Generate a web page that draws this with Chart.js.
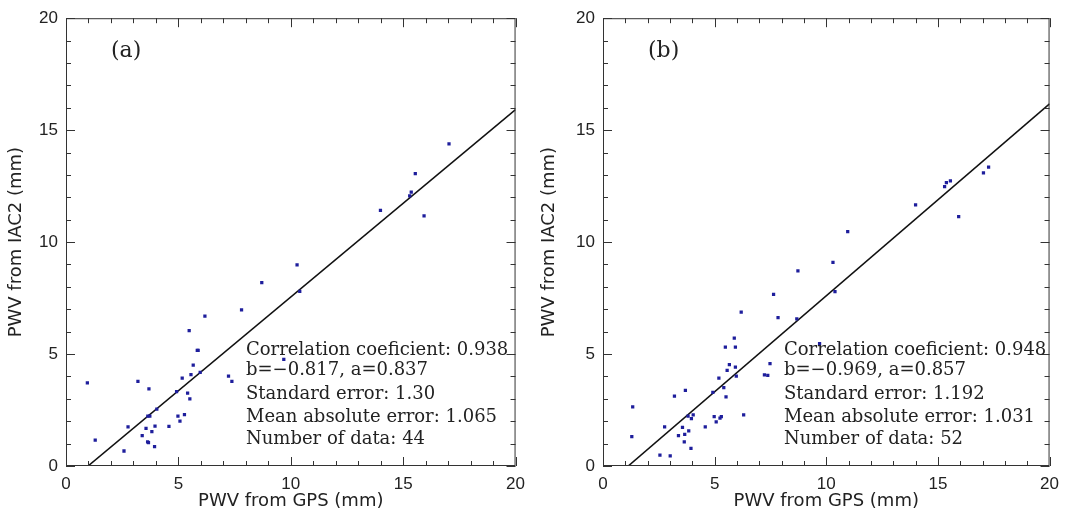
<!DOCTYPE html>
<html>
<head>
<meta charset="utf-8">
<script src="https://cdn.jsdelivr.net/npm/chart.js@4/dist/chart.umd.min.js"></script>
<style>
  body { margin: 0; background: #fff; }
  .panel { position: absolute; top: 0; }
</style>
</head>
<body>
<div class="panel" style="left:0"><canvas id="chartA" width="533" height="515"></canvas></div>
<div class="panel" style="left:533px"><canvas id="chartB" width="534" height="515"></canvas></div>
<script>
// Panel (a) - PWV points
const gpsA = [0.95, 1.30, 2.58, 2.76, 3.20, 3.39, 3.56, 3.63, 3.67, 3.69, 3.64, 3.73, 3.82, 3.94, 3.96, 4.04,
  4.58, 4.92, 4.98, 5.07, 5.17, 5.27, 5.41, 5.48, 5.51, 5.56, 5.66, 5.84, 5.88, 5.97, 6.18, 7.23, 7.38,
  7.81, 8.71, 9.69, 10.28, 10.40, 13.99, 15.29, 15.36, 15.54, 15.93, 17.04];
const iacA = [3.71, 1.16, 0.67, 1.75, 3.78, 1.36, 1.68, 1.08, 1.04, 3.44, 2.23, 2.23, 1.53, 0.86, 1.78, 2.54,
  1.77, 3.32, 2.23, 2.00, 3.93, 2.30, 3.26, 6.05, 3.00, 4.08, 4.50, 5.16, 5.16, 4.18, 6.69, 4.01, 3.78,
  6.97, 8.19, 4.76, 8.98, 7.80, 11.42, 12.06, 12.23, 13.06, 11.17, 14.39];
const fitAx = [0.98, 20];
const fitAy = [0, 15.92];
const statsA = ['Correlation coeficient: 0.938', 'b=\u22120.817, a=0.837', 'Standard error: 1.30',
  'Mean absolute error: 1.065', 'Number of data: 44'];

// Panel (b)
const gpsB = [1.29, 1.33, 2.55, 2.76, 3.01, 3.20, 3.38, 3.56, 3.64, 3.66, 3.69, 3.81, 3.84, 3.94, 3.96, 4.04,
  4.58, 4.92, 4.98, 5.07, 5.19, 5.24, 5.30, 5.41, 5.48, 5.51, 5.56, 5.66, 5.88, 5.93, 5.93, 5.97, 6.19,
  6.30, 7.23, 7.38, 7.48, 7.64, 7.84, 8.68, 8.73, 9.70, 10.30, 10.39, 10.96, 14.00, 15.30, 15.38, 15.56,
  15.93, 17.04, 17.27];
const iacB = [1.31, 2.64, 0.49, 1.75, 0.45, 3.12, 1.36, 1.72, 1.08, 1.41, 3.38, 2.23, 1.57, 0.79, 2.12, 2.28,
  1.75, 3.29, 2.20, 1.97, 3.93, 2.14, 2.20, 3.50, 5.31, 3.09, 4.27, 4.53, 5.71, 5.31, 4.42, 4.01, 6.87,
  2.28, 4.07, 4.05, 4.57, 7.67, 6.63, 6.57, 8.72, 5.46, 9.09, 7.79, 10.47, 11.66, 12.48, 12.66, 12.73,
  11.14, 13.09, 13.35];
const fitBx = [1.13, 20];
const fitBy = [0, 16.17];
const statsB = ['Correlation coeficient: 0.948', 'b=\u22120.969, a=0.857', 'Standard error: 1.192',
  'Mean absolute error: 1.031', 'Number of data: 52'];

const ticks = [0, 5, 10, 15, 20];

// box + inward tick marks + annotation text
const framePlugin = {
  id: 'frame',
  afterDraw(chart) {
    const ctx = chart.ctx;
    const a = chart.chartArea;
    const xs = chart.scales.x, ys = chart.scales.y;
    const o = chart.options.plugins.frame;
    ctx.save();
    ctx.strokeStyle = '#333';
    ctx.lineWidth = 1;
    ctx.strokeRect(a.left + 0.5, a.top + 0.5, a.width - 1, a.height - 1);
    ctx.beginPath();
    for (let v = 0; v <= 20; v++) {
      const len = v % 5 === 0 ? 9 : 5;
      const px = Math.round(xs.getPixelForValue(v)) + 0.5;
      const py = Math.round(ys.getPixelForValue(v)) + 0.5;
      ctx.moveTo(px, a.bottom); ctx.lineTo(px, a.bottom - len);
      ctx.moveTo(px, a.top); ctx.lineTo(px, a.top + len);
      ctx.moveTo(a.left, py); ctx.lineTo(a.left + len, py);
      ctx.moveTo(a.right, py); ctx.lineTo(a.right - len, py);
    }
    ctx.stroke();
    ctx.fillStyle = '#222';
    ctx.font = '22px "DejaVu Serif"';
    ctx.textBaseline = 'middle';
    ctx.fillText(o.label, a.left + 45, a.top + 33);
    ctx.font = '18px "DejaVu Serif"';
    const gaps = [0, 20, 44, 67, 89];
    o.stats.forEach((s, i) => ctx.fillText(s, a.left + o.textX, a.top + 332 + gaps[i]));
    ctx.restore();
  }
};

function makePanel(id, gx, gy, fx, fy, label, stats, leftW, rightPad, textX) {
  new Chart(document.getElementById(id), {
    type: 'scatter',
    data: {
      datasets: [{
        data: gx.map((x, i) => ({ x: x, y: gy[i] })),
        pointStyle: 'rect',
        pointRadius: 2.3,
        backgroundColor: '#1e1e9c',
        borderWidth: 0
      }, {
        type: 'line',
        data: fx.map((x, i) => ({ x: x, y: fy[i] })),
        borderColor: '#111',
        borderWidth: 1.6,
        pointRadius: 0,
        fill: false
      }]
    },
    options: {
      responsive: false,
      animation: false,
      layout: { padding: { top: 17, right: rightPad, left: 0, bottom: 0 } },
      plugins: { legend: { display: false }, tooltip: { enabled: false },
        frame: { label: label, stats: stats, textX: textX } },
      scales: {
        x: {
          type: 'linear', min: 0, max: 20,
          afterBuildTicks: s => { s.ticks = ticks.map(v => ({ value: v })); },
          grid: { display: false, drawTicks: false },
          border: { display: false },
          ticks: { padding: 8, color: '#222', font: { family: '"Liberation Sans"', size: 17 } },
          title: { display: true, text: 'PWV from GPS (mm)', color: '#222',
            font: { family: '"DejaVu Sans"', size: 18 }, padding: { top: 0, bottom: 3 } },
          afterFit: s => { s.height = 49; }
        },
        y: {
          type: 'linear', min: 0, max: 20,
          afterBuildTicks: s => { s.ticks = ticks.map(v => ({ value: v })); },
          grid: { display: false, drawTicks: false },
          border: { display: false },
          ticks: { padding: 8, color: '#222', font: { family: '"Liberation Sans"', size: 17 } },
          title: { display: true, text: 'PWV from IAC2 (mm)', color: '#222',
            font: { family: '"DejaVu Sans"', size: 18 }, padding: { top: 6, bottom: 0 } },
          afterFit: s => { s.width = leftW; }
        }
      }
    },
    plugins: [framePlugin]
  });
}

makePanel('chartA', gpsA, iacA, fitAx, fitAy, '(a)', statsA, 66, 17, 180);
makePanel('chartB', gpsB, iacB, fitBx, fitBy, '(b)', statsB, 70, 14, 181);
</script>
</body>
</html>
